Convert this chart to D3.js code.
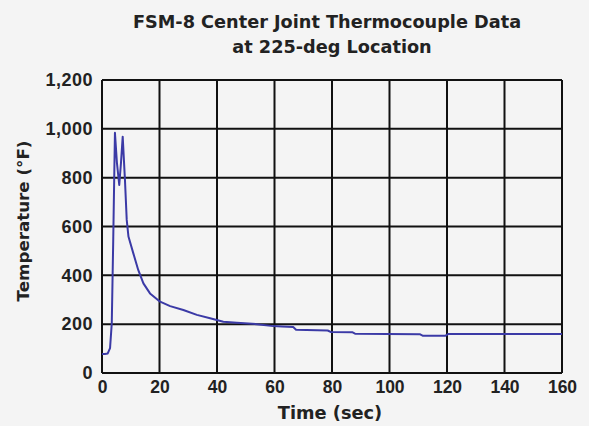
<!DOCTYPE html>
<html>
<head>
<meta charset="utf-8">
<script src="https://cdn.jsdelivr.net/npm/d3@7"></script>
<style>
  body { margin: 0; background: #f4f4f4; }
  svg { display: block; }
</style>
</head>
<body>
<script>
// data
const timeSec = [0, 1, 2.0, 2.8, 3.4, 3.9, 4.5, 5.2, 6.0, 6.6, 7.2, 8.0, 8.6, 9.2, 10.9, 12.6, 14.4, 16.7, 20.2, 23.7, 28.3, 33, 37.6, 42.2, 46.9, 53.8, 59.6, 62.6, 66.5, 67.5, 78.5, 79.5, 87, 88, 110.5, 111.5, 119.5, 120.5, 160]
const tempF   = [78, 78, 80, 102, 204, 540, 984, 860, 770, 860, 968, 787, 627, 559, 490, 422, 367, 326, 292, 274, 258, 238, 224, 210, 206, 200, 192, 190, 188, 177, 174, 168, 167, 161, 159, 153, 153, 160, 160]
const xTicks = [0, 20, 40, 60, 80, 100, 120, 140, 160]
const yTicks = [0, 200, 400, 600, 800, 1000, 1200]

const data = timeSec.map((t, i) => ({t: t, v: tempF[i]}))

const width = 589, height = 426
const margin = {top: 80, right: 27, bottom: 53, left: 102}
const boundedWidth = width - margin.left - margin.right
const boundedHeight = height - margin.top - margin.bottom

const svg = d3.select("body")
    .append("svg")
    .attr("width", width)
    .attr("height", height)
    .style("font-family", "'DejaVu Sans', sans-serif")
    .style("font-weight", "bold")

const bounds = svg.append("g")
    .attr("transform", `translate(${margin.left},${margin.top})`)

//scales
const xScale = d3.scaleLinear()
    .domain([0, 160])
    .range([0, boundedWidth])

const yScale = d3.scaleLinear()
    .domain([0, 1200])
    .range([boundedHeight, 0])

//grid
bounds.selectAll(".vgrid")
    .data(xTicks)
    .enter()
    .append("line")
    .attr("x1", d => xScale(d))
    .attr("x2", d => xScale(d))
    .attr("y1", 0)
    .attr("y2", boundedHeight)
    .attr("stroke", "#111")
    .attr("stroke-width", 2)

bounds.selectAll(".hgrid")
    .data(yTicks)
    .enter()
    .append("line")
    .attr("x1", 0)
    .attr("x2", boundedWidth)
    .attr("y1", d => yScale(d))
    .attr("y2", d => yScale(d))
    .attr("stroke", "#111")
    .attr("stroke-width", 2)

//axes
const xAxis = bounds.append("g")
    .attr("transform", `translate(0,${boundedHeight})`)
    .call(d3.axisBottom(xScale).tickValues(xTicks).tickSize(0).tickPadding(8))
xAxis.select(".domain").remove()
xAxis.selectAll("text")
    .style("font-size", "17.5px")
    .attr("fill", "#222")

const yAxis = bounds.append("g")
    .call(d3.axisLeft(yScale).tickValues(yTicks).tickSize(0).tickPadding(9)
        .tickFormat(d3.format(",")))
yAxis.select(".domain").remove()
yAxis.selectAll("text")
    .style("font-size", "18px")
    .style("letter-spacing", "0.5px")
    .attr("fill", "#222")

//line
const line = d3.line()
    .x(d => xScale(d.t))
    .y(d => yScale(d.v))

bounds.append("path")
    .datum(data)
    .attr("d", line)
    .attr("fill", "none")
    .attr("stroke", "#3b3aa6")
    .attr("stroke-width", 2)
    .attr("stroke-linejoin", "round")

//labels
svg.append("text")
    .attr("x", 330)
    .attr("y", 419)
    .attr("text-anchor", "middle")
    .style("font-size", "17.8px")
    .attr("fill", "#222")
    .text("Time (sec)")

svg.append("text")
    .attr("transform", "translate(29,221) rotate(-90)")
    .attr("text-anchor", "middle")
    .style("font-size", "16.7px")
    .attr("fill", "#222")
    .text("Temperature (°F)")

svg.append("text")
    .attr("x", 327)
    .attr("y", 28)
    .attr("text-anchor", "middle")
    .style("font-size", "17.7px")
    .attr("fill", "#222")
    .text("FSM-8 Center Joint Thermocouple Data")

svg.append("text")
    .attr("x", 332)
    .attr("y", 53)
    .attr("text-anchor", "middle")
    .style("font-size", "17.7px")
    .attr("fill", "#222")
    .text("at 225-deg Location")
</script>
</body>
</html>
